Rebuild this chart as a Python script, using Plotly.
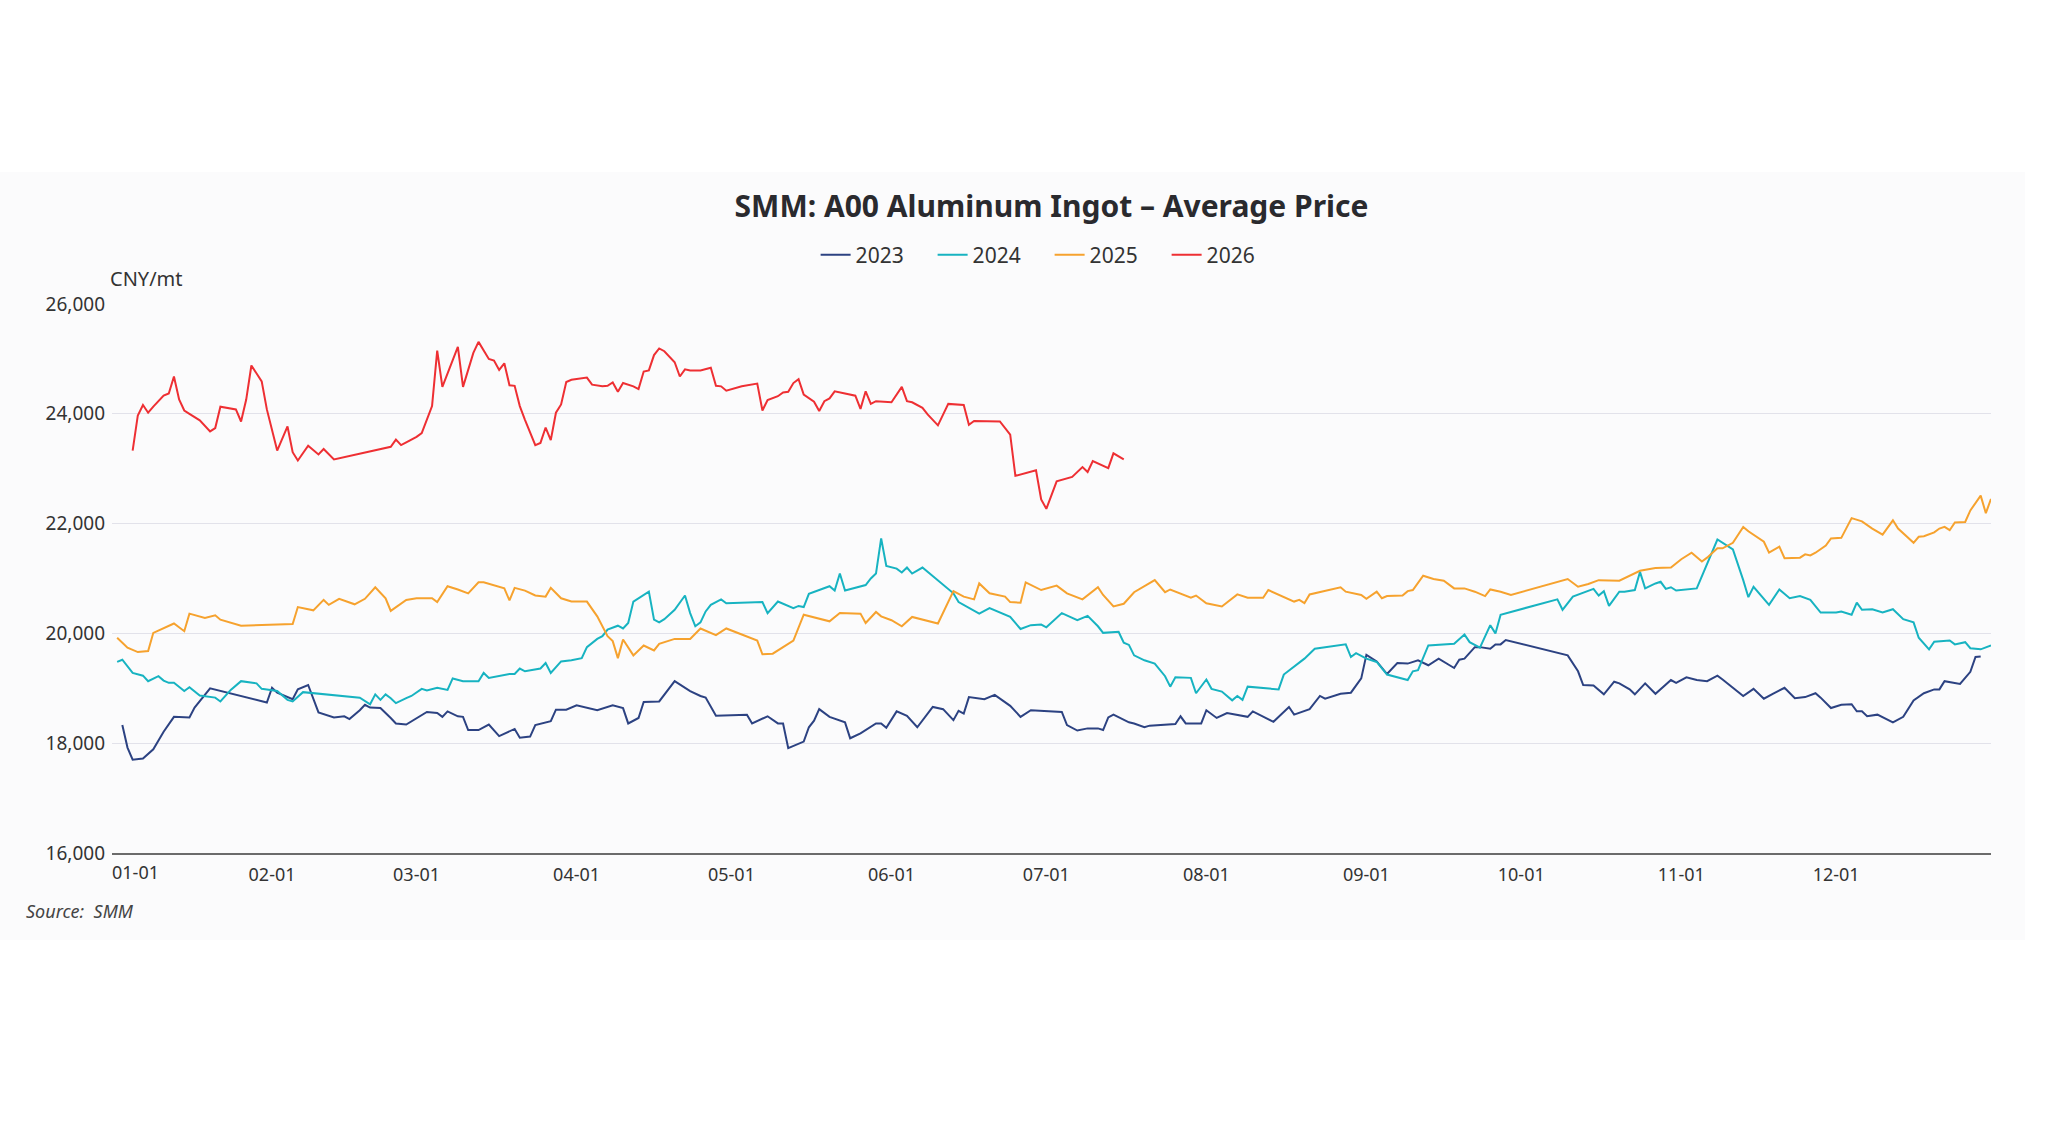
import pandas as pd
import plotly.graph_objects as go

# ---- data: day-of-year offsets (0 = Jan 1) and prices (CNY/mt) ----
day_2023 = [2, 3, 4, 6, 8, 9, 10, 12, 15, 16, 18, 19, 30, 31, 32, 34, 35, 36, 38, 40, 42, 43, 45, 46, 48, 49, 50, 52, 54, 55, 57,
            61, 63, 64, 65, 67, 68, 69, 71, 73, 75, 78, 79, 81, 82, 85, 86, 88, 90, 94, 97, 99, 100, 102, 103, 106, 109, 111, 112,
            114, 115, 117, 123, 124, 127, 129, 130, 131, 134, 135, 136, 137, 139, 142, 143, 145, 148, 149, 150, 152, 154, 156, 159,
            161, 163, 164, 165, 166, 169, 171, 174, 176, 178, 184, 185, 187, 189, 191, 192, 193, 194, 197, 198, 200, 201, 206, 207,
            208, 211, 212, 214, 216, 220, 221, 225, 228, 229, 232, 234, 235, 238, 240, 242, 243, 245, 247, 249, 251, 253, 255, 257,
            260, 261, 262, 264, 265, 267, 268, 269, 270, 282, 284, 285, 287, 289, 291, 292, 294, 295, 297, 299, 302, 303, 305, 307,
            309, 311, 312, 314, 316, 318, 320, 322, 324, 326, 328, 330, 331, 333, 335, 337, 338, 339, 340, 342, 345, 347, 349, 351,
            353, 354, 355, 358, 359, 360, 361, 362]
price_2023 = [18330, 17920, 17700, 17720, 17890, 18040, 18210, 18480, 18470, 18650, 18870, 19000, 18740, 19010, 18920, 18830,
              18800, 18980, 19060, 18560, 18500, 18470, 18490, 18440, 18600, 18700, 18650, 18640, 18460, 18360, 18340,
              18570, 18550, 18480, 18580, 18490, 18480, 18240, 18240, 18340, 18130, 18260, 18100, 18120, 18330, 18400, 18610,
              18610, 18690, 18600, 18690, 18640, 18360, 18460, 18750, 18760, 19130, 19000, 18950,
              18860, 18830, 18500, 18520, 18360, 18490, 18360, 18360, 17910, 18030, 18290, 18410, 18620, 18480, 18380, 18090,
              18180, 18360, 18360, 18280, 18580, 18500, 18290, 18660,
              18620, 18420, 18590, 18540, 18840, 18800, 18880, 18680, 18480, 18600, 18570, 18330, 18230, 18270, 18270, 18240,
              18470, 18520, 18380, 18360, 18290, 18320, 18350, 18490,
              18360, 18360, 18600, 18460, 18550, 18480, 18580, 18390, 18660, 18520, 18620, 18860, 18810, 18900, 18920, 19180,
              19610, 19490, 19260, 19460, 19450, 19510, 19420, 19540,
              19370, 19520, 19540, 19750, 19750, 19720, 19800, 19800, 19880, 19600, 19310, 19060, 19050, 18890, 19120, 19090,
              18980, 18890, 19090, 18900, 19150, 19100, 19200, 19150,
              19130, 19230, 19160, 19010, 18860, 18990, 18810, 18910, 19010, 18820, 18840, 18910, 18830, 18640, 18700, 18710,
              18580, 18580, 18490, 18520, 18380, 18480, 18780, 18910,
              18980, 18980, 19130, 19080, 19190, 19300, 19570, 19580]

day_2024 = [1, 2, 4, 6, 7, 9, 10, 11, 12, 14, 15, 17, 20, 21, 23, 25, 28, 29, 30, 32, 34, 35, 37, 48, 50, 51, 52, 53, 54, 55, 57,
            58, 60, 61, 63, 65, 66, 68, 71, 72, 73, 77, 78, 79, 80, 83, 84, 85, 87, 89, 91, 92, 94, 95, 96, 98, 99, 100, 101, 104,
            105, 106, 107, 109, 111, 112, 113, 114, 115, 116, 118, 119, 126, 127, 129, 131, 132, 133, 134, 135, 139, 140, 141, 142,
            146, 147, 148, 149, 150, 152, 153, 154, 155, 157, 163, 164, 168, 170, 174, 176, 178, 180, 181, 184, 186, 187, 189, 191,
            192, 195, 196, 197, 198, 200, 202, 204, 205, 206, 209, 210, 212, 213, 215, 217, 218, 219, 220, 226, 227, 229, 231, 233,
            239, 240, 241, 243, 245, 247, 251, 252, 253, 255, 260, 262, 263, 265, 267, 268, 269, 280, 281, 283, 285, 287, 288, 289,
            290, 292, 293, 295, 296, 297, 299, 300, 301, 302, 303, 307, 311, 314, 316, 317, 318, 320, 321, 323, 325, 327, 329, 331,
            334, 335, 337, 338, 339, 341, 343, 345, 346, 347, 349, 350, 352, 353, 356, 357, 359, 360, 362, 364]
price_2024 = [19480, 19520, 19280, 19230, 19130, 19220, 19140, 19100, 19100, 18950, 19020, 18870, 18830, 18760, 18970, 19130,
              19090, 18990, 18980, 18950, 18790, 18760, 18930, 18830, 18710, 18890, 18790, 18890, 18820, 18730, 18820,
              18860, 18990, 18960, 19010, 18970, 19180, 19130, 19130, 19280, 19190, 19260, 19260, 19360, 19310, 19360, 19460,
              19280, 19490, 19510, 19550, 19750, 19900, 19950, 20070, 20140, 20090, 20190, 20580, 20760,
              20250, 20200, 20260, 20430, 20690, 20370, 20130, 20200, 20400, 20520, 20620, 20550, 20570, 20370, 20580, 20500,
              20460, 20500, 20480, 20720, 20860, 20780, 21090, 20780,
              20880, 21000, 21090, 21730, 21230, 21180, 21110, 21200, 21090, 21200, 20730, 20570, 20360, 20460, 20300, 20080,
              20150, 20160, 20110, 20370, 20280, 20240, 20320, 20130,
              20010, 20030, 19830, 19790, 19600, 19510, 19450, 19220, 19030, 19200, 19190, 18910, 19160, 18990, 18940, 18780,
              18860, 18790, 19030, 18980, 19250, 19390, 19540, 19720,
              19800, 19570, 19640, 19540, 19480, 19250, 19150, 19310, 19330, 19780, 19810, 19980, 19840, 19740, 20150, 20000,
              20340, 20620, 20430, 20670, 20740, 20810, 20690, 20770,
              20500, 20760, 20760, 20790, 21120, 20820, 20910, 20940, 20810, 20840, 20780, 20820, 21710, 21530, 20970, 20660,
              20850, 20640, 20520, 20800, 20640, 20680, 20610, 20380,
              20380, 20400, 20340, 20560, 20430, 20440, 20380, 20440, 20340, 20260, 20200, 19920, 19710, 19850, 19870, 19800,
              19840, 19730, 19710, 19780]

day_2025 = [1, 2, 3, 5, 7, 8, 12, 14, 15, 18, 20, 21, 25, 35, 36, 39, 41, 42, 44, 47, 49, 51, 53, 54, 56, 57, 59, 62, 63, 65, 67,
            69, 71, 72, 76, 77, 78, 80, 82, 84, 85, 87, 89, 92, 94, 96, 97, 98, 99, 101, 103, 105, 106, 109, 112, 114, 117, 119,
            122, 125, 126, 128, 132, 134, 139, 141, 145, 146, 148, 149, 151, 153, 155, 160, 163, 165, 167, 168, 170, 173, 174, 176,
            177, 180, 183, 185, 188, 191, 192, 194, 196, 198, 202, 204, 205, 209, 210, 212, 215, 218, 220, 223, 224, 229, 230, 231,
            232, 238, 239, 242, 243, 245, 246, 247, 250, 251, 252, 254, 256, 258, 260, 262, 264, 266, 267, 269, 271, 282, 284, 286,
            288, 292, 296, 299, 302, 304, 306, 308, 309, 311, 312, 313, 314, 316, 317, 320, 321, 323, 324, 327, 328, 329, 330, 332,
            333, 335, 337, 339, 341, 343, 345, 346, 349, 350, 351, 353, 354, 355, 356, 357, 359, 360, 362, 363, 364]
price_2025 = [19920, 19830, 19740, 19660, 19680, 20010, 20180, 20040, 20360, 20280, 20330, 20250, 20140, 20170, 20480, 20420,
              20610, 20520, 20630, 20530, 20630, 20840, 20640, 20410, 20550, 20610, 20640, 20640, 20570, 20860, 20800,
              20730, 20930, 20930, 20820, 20600, 20830, 20780, 20690, 20670, 20830, 20640, 20580, 20580, 20310, 19950, 19860,
              19550, 19890, 19600, 19780, 19690, 19810, 19900, 19900, 20090, 19970, 20090,
              19980, 19870, 19620, 19630, 19870, 20340, 20220, 20370, 20360, 20190, 20390, 20310, 20240, 20130, 20300, 20180,
              20770, 20670, 20620, 20910, 20730, 20670, 20570, 20560,
              20930, 20790, 20870, 20730, 20620, 20840, 20700, 20490, 20540, 20750, 20970, 20750, 20800, 20650, 20690, 20550,
              20490, 20710, 20650, 20650, 20790, 20580, 20610, 20550,
              20710, 20840, 20760, 20700, 20630, 20760, 20640, 20680, 20690, 20770, 20790, 21050, 20990, 20960, 20820, 20820,
              20760, 20680, 20800, 20760, 20700, 20990, 20850, 20900,
              20970, 20960, 21140, 21190, 21200, 21350, 21470, 21310, 21380, 21550, 21550, 21600, 21650, 21940, 21860, 21670,
              21470, 21580, 21370, 21380, 21440, 21420, 21470, 21600,
              21730, 21740, 22100, 22040, 21910, 21800, 22060, 21910, 21650, 21760, 21770, 21840, 21910, 21940, 21880, 22020,
              22030, 22240, 22510, 22190, 22450]

day_2026 = [4, 5, 6, 7, 8, 10, 11, 12, 13, 14, 15, 17, 19, 20, 21, 24, 25, 26, 27, 29, 30, 32, 34, 35, 36, 37, 38, 40, 41, 43,
            53, 54, 55, 56, 57, 59, 60, 62, 63, 64, 67, 68, 70, 71, 73, 74, 75, 76, 77, 78, 79, 80, 82, 83, 84, 85, 86, 87, 88,
            89, 92, 93, 95, 96, 97, 98, 99, 101, 102, 103, 104, 105, 106, 107, 109, 110, 111, 112, 114, 116, 117, 118, 119, 122,
            125, 126, 127, 129, 130, 131, 132, 133, 134, 136, 137, 138, 139, 140, 142, 144, 145, 146, 147, 148, 151, 153, 154,
            155, 157, 158, 160, 161, 162, 165, 166, 167, 172, 174, 175, 179, 180, 181, 183, 186, 188, 189, 190, 193, 194, 196]
price_2026 = [23330, 23970, 24160, 24020, 24130, 24330, 24370, 24680, 24260, 24060, 24000, 23880, 23680, 23740, 24130, 24080,
              23860, 24260, 24880, 24590, 24080, 23330, 23770, 23300, 23150, 23290, 23420, 23260, 23360, 23170,
              23390, 23400, 23530, 23430, 23480, 23580, 23650, 24140, 25150, 24490, 25220, 24490, 25110, 25310, 25000, 24970,
              24800, 24920, 24520, 24510, 24140, 23890, 23430, 23470, 23750, 23520, 24020, 24170, 24580,
              24620, 24660, 24530, 24500, 24510, 24570, 24400, 24560, 24500, 24450, 24770, 24790, 25070, 25190, 25140, 24940,
              24680, 24810, 24790, 24790, 24840, 24510, 24500, 24420, 24500,
              24550, 24060, 24250, 24320, 24390, 24400, 24560, 24630, 24350, 24220, 24050, 24230, 24280, 24410, 24370, 24330,
              24090, 24410, 24180, 24230, 24210, 24490, 24230,
              24210, 24110, 23990, 23790, 23990, 24180, 24160, 23800, 23870, 23860, 23620, 22870, 22970, 22440, 22270, 22770,
              22850, 23030, 22940, 23140, 23010, 23280, 23170]

years = ["2023", "2024", "2025", "2026"]
colors = ["#2c4282", "#17b3c1", "#f6a22e", "#ee2f33"]
series_days = [day_2023, day_2024, day_2025, day_2026]
series_prices = [price_2023, price_2024, price_2025, price_2026]

month_ticks = ["02-01", "03-01", "04-01", "05-01", "06-01", "07-01", "08-01", "09-01", "10-01", "11-01", "12-01"]
y_ticks = [16000, 18000, 20000, 22000, 24000, 26000]

BASE_YEAR = "2025"
base = pd.Timestamp(f"{BASE_YEAR}-01-01")


def to_dates(days):
    return base + pd.to_timedelta(days, unit="D")


FONT = "Noto Sans"
TXT = "#333333"

fig = go.Figure()
for name, col, d, p in zip(years, colors, series_days, series_prices):
    fig.add_trace(go.Scatter(x=to_dates(d), y=p, mode="lines", name=name,
                             line=dict(color=col, width=2)))

fig.update_layout(
    width=2046, height=1132,
    margin=dict(l=112, r=55, t=304, b=279),
    paper_bgcolor="#ffffff",
    plot_bgcolor="rgba(0,0,0,0)",
    font=dict(family=FONT, color=TXT, size=18),
    title=dict(text="<b>SMM: A00 Aluminum Ingot – Average Price</b>",
               x=0.5, xref="paper", xanchor="center",
               y=1 - 206 / 1132, yref="container", yanchor="middle",
               font=dict(family=FONT, size=30, color="#2a2a2e")),
    legend=dict(orientation="h", x=0.4990, xanchor="center",
                y=1 - 255 / 1132, yref="container", yanchor="middle",
                font=dict(size=21, color=TXT), entrywidth=72, entrywidthmode="pixels",
                bgcolor="rgba(0,0,0,0)"),
    showlegend=True,
    shapes=[dict(type="rect", xref="paper", yref="paper",
                 x0=-112 / 1879, x1=(2025 - 112) / 1879,
                 y0=(853 - 940) / 549, y1=(853 - 172) / 549,
                 fillcolor="#fbfbfc", line=dict(width=0), layer="below")],
)

fig.update_xaxes(
    type="date",
    range=[f"{BASE_YEAR}-01-01", f"{BASE_YEAR}-12-31"],
    tickmode="array",
    tickvals=[pd.Timestamp(f"{BASE_YEAR}-{m}") for m in month_ticks],
    ticktext=month_ticks,
    ticks="", showgrid=False, zeroline=False,
    showline=True, linecolor="#6b6b6b", linewidth=2,
    tickfont=dict(size=18, color=TXT),
    ticklabelstandoff=4,
)
fig.update_yaxes(
    range=[16000, 26000], tickvals=y_ticks, tickformat=",d",
    showgrid=True, gridcolor="#e2e2ea", gridwidth=1,
    zeroline=False, showline=False, ticks="",
    tickfont=dict(size=19, color=TXT),
    ticklabelstandoff=6,
)

fig.add_annotation(text="01-01", xref="x", yref="paper", x=base, y=(853 - 872) / 549,
                   xanchor="left", yanchor="middle", showarrow=False,
                   font=dict(size=18, color=TXT), xshift=-2)
fig.add_annotation(text="CNY/mt", xref="paper", yref="paper", x=(108 - 112) / 1879, y=(853 - 278) / 549,
                   xanchor="left", yanchor="middle", showarrow=False,
                   font=dict(size=20, color=TXT))
fig.add_annotation(text="<i>Source:\u00a0 SMM</i>", xref="paper", yref="paper",
                   x=(24 - 112) / 1879, y=(853 - 911) / 549,
                   xanchor="left", yanchor="middle", showarrow=False,
                   font=dict(size=18, color="#444444"))

fig.write_html("out.html")
